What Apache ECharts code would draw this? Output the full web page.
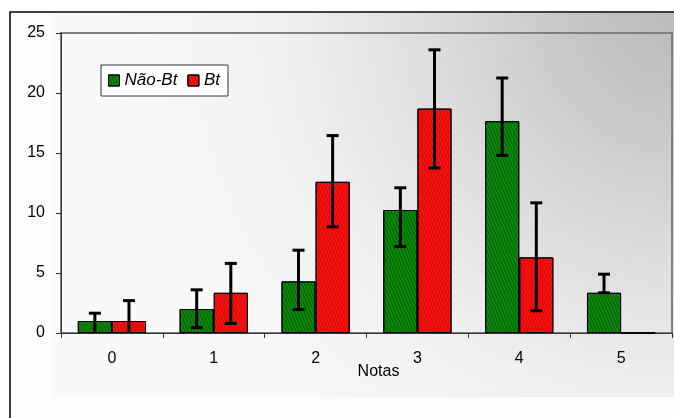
<!DOCTYPE html>
<html>
<head>
<meta charset="utf-8">
<script src="https://cdn.jsdelivr.net/npm/echarts@6/dist/echarts.min.js"></script>
<style>
html,body{margin:0;padding:0;background:#fff;}
#chart{width:674px;height:418px;}
</style>
</head>
<body>
<div id="chart"></div>
<script>
var categories = ['0', '1', '2', '3', '4', '5'];
var naoBt = [1.0, 2.0, 4.3, 10.25, 17.65, 3.35];
var bt = [1.0, 3.35, 12.6, 18.7, 6.3, 0];
var naoBtLow = [0, 0.45, 1.95, 7.2, 14.8, 3.35];
var naoBtHigh = [1.65, 3.6, 6.9, 12.1, 21.25, 4.9];
var btLow = [0, 0.8, 8.85, 13.75, 1.85, null];
var btHigh = [2.7, 5.8, 16.45, 23.6, 10.85, null];
var yTicks = [0, 5, 10, 15, 20, 25];

var chart = echarts.init(document.getElementById('chart'));
var FONT = 'Liberation Sans, Arial, sans-serif';
var GAP = 0.33;

function errData(low, high) {
  var out = [];
  for (var i = 0; i < categories.length; i++) {
    if (high[i] == null) continue;
    out.push([i, low[i], high[i]]);
  }
  return out;
}

function makeErrRender(side) {
  return function (params, api) {
    var idx = api.value(0);
    var lo = api.value(1), hi = api.value(2);
    var cw = api.size([1, 0])[0];
    var band = cw * (1 - GAP);
    var off = side * band / 4;
    var pHi = api.coord([idx, hi]);
    var pLo = api.coord([idx, lo]);
    var x = pHi[0] + off;
    var cap = 6;
    var children = [
      {type: 'line', shape: {x1: x, y1: pHi[1], x2: x, y2: pLo[1]}, style: {stroke: '#000', lineWidth: 3}},
      {type: 'line', shape: {x1: x - cap, y1: pHi[1], x2: x + cap, y2: pHi[1]}, style: {stroke: '#000', lineWidth: 3}}
    ];
    if (lo > 0) {
      children.push({type: 'line', shape: {x1: x - cap, y1: pLo[1], x2: x + cap, y2: pLo[1]}, style: {stroke: '#000', lineWidth: 3}});
    }
    return {type: 'group', children: children};
  };
}

var decalStyle = function (c) {
  return {symbol: 'rect', symbolSize: 1, color: c, dashArrayX: [1, 0], dashArrayY: [1, 2], rotation: Math.PI / 2.7};
};

chart.setOption({
  backgroundColor: '#fff',
  animation: false,
  graphic: [{
    type: 'rect', z: -10,
    shape: {x: 10, y: 12, width: 680, height: 420},
    style: {fill: '#fdfdfd', stroke: '#000', lineWidth: 1.5}
  }, {
    type: 'rect', z: -9,
    shape: {x: 52, y: 13, width: 640, height: 384},
    style: {
      fill: {type: 'radial', x: 674, y: 12, r: 560, global: true, colorStops: [
        {offset: 0, color: '#bcbcbc'},
        {offset: 0.15, color: '#c4c4c4'},
        {offset: 0.45, color: '#dedede'},
        {offset: 0.7, color: '#f0f0f0'},
        {offset: 1, color: '#f9f9f9'}
      ]}
    }
  }],
  legend: {
    left: 101, top: 65,
    orient: 'horizontal',
    backgroundColor: '#fff',
    borderColor: '#333', borderWidth: 1,
    padding: [7, 8, 7, 7],
    itemWidth: 11, itemHeight: 11, itemGap: 10,
    icon: 'rect',
    textStyle: {fontFamily: FONT, fontSize: 17, fontStyle: 'italic', color: '#000'},
    data: [
      {name: 'Não-Bt', itemStyle: {borderColor: '#000', borderWidth: 1}},
      {name: 'Bt', itemStyle: {borderColor: '#000', borderWidth: 1}}
    ]
  },
  grid: {left: 61, top: 33, right: 2, bottom: 85, show: true, borderColor: '#808080', borderWidth: 2, backgroundColor: 'transparent'},
  xAxis: {
    type: 'category', data: categories,
    name: 'Notas', nameLocation: 'middle', nameGap: 31, nameMoveOverlap: false,
    nameTextStyle: {fontFamily: FONT, fontSize: 16, color: '#000', padding: [0, 0, 0, 24]},
    axisLine: {lineStyle: {color: '#333', width: 1}},
    axisTick: {show: true, length: 5, lineStyle: {color: '#333'}},
    axisLabel: {fontFamily: FONT, fontSize: 16, color: '#000', margin: 18}
  },
  yAxis: {
    type: 'value', min: 0, max: 25, interval: 5,
    axisLine: {show: true, lineStyle: {color: '#333', width: 1}},
    axisTick: {show: true, length: 5, lineStyle: {color: '#333'}},
    axisLabel: {fontFamily: FONT, fontSize: 16, color: '#000', margin: 16,
      formatter: function (v) { return yTicks.indexOf(v) >= 0 ? String(v) : ''; }},
    splitLine: {show: false}
  },
  series: [
    {name: 'Não-Bt', type: 'bar', data: naoBt, barGap: '0%', barCategoryGap: '33%',
      itemStyle: {color: '#0a8a0a', borderColor: '#000', borderWidth: 1, decal: decalStyle('rgba(0,40,0,0.45)')}},
    {name: 'Bt', type: 'bar', data: bt, barGap: '0%', barCategoryGap: '33%',
      itemStyle: {color: '#ff1010', borderColor: '#000', borderWidth: 1, decal: decalStyle('rgba(120,0,0,0.4)')}},
    {type: 'custom', name: 'errNao', data: errData(naoBtLow, naoBtHigh), renderItem: makeErrRender(-1), z: 5, silent: true},
    {type: 'custom', name: 'errBt', data: errData(btLow, btHigh), renderItem: makeErrRender(1), z: 5, silent: true}
  ]
});
</script>
</body>
</html>
